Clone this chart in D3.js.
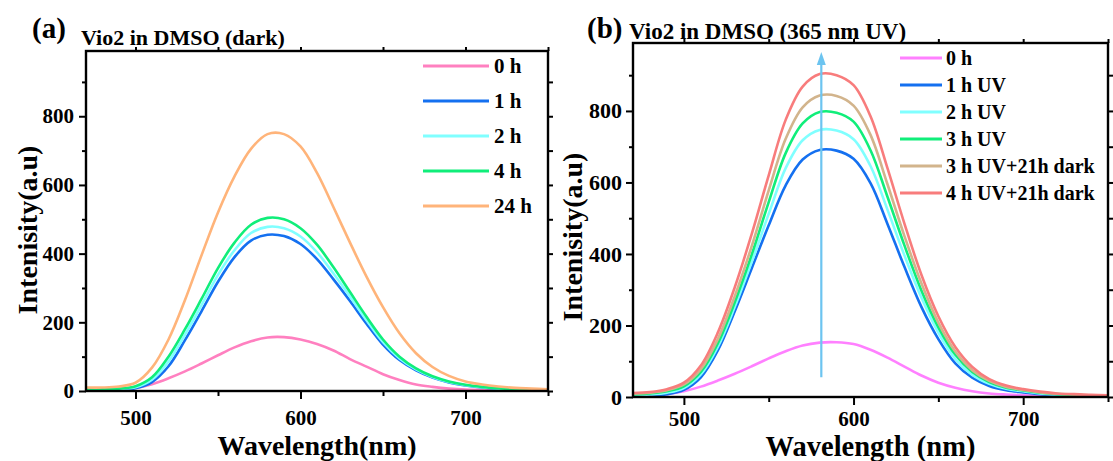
<!DOCTYPE html>
<html>
<head>
<meta charset="utf-8">
<script src="https://cdn.jsdelivr.net/npm/d3@7"></script>
<style>
  body { margin: 0; background: #fff; }
  svg text { font-family: "Liberation Serif", "Times New Roman", serif; font-weight: bold; fill: #000; }
</style>
</head>
<body>
<svg id="chart" width="1113" height="461"></svg>
<script>
// wavelength grid (nm)
var wavelength = [470, 480, 490, 500, 510, 520, 530, 540, 550, 560, 570, 580, 590, 600, 610,
                  620, 630, 640, 650, 660, 670, 680, 690, 700, 710, 720, 730, 740, 750];

// panel (a): Vio2 in DMSO (dark)
var darkLabels = ["0 h", "1 h", "2 h", "4 h", "24 h"];
var dark0h  = [1, 2, 4, 9, 20, 37, 57, 80, 104, 127, 145, 156, 157, 150, 137, 118, 93, 71, 49, 32, 19, 12, 7, 4, 3, 2, 1, 1, 1];
var dark1h  = [2, 3, 4, 8, 26, 72, 148, 232, 318, 390, 438, 455, 451, 428, 384, 325, 262, 196, 135, 90, 60, 39, 25, 16, 10, 6, 4, 3, 2];
var dark2h  = [3, 4, 6, 11, 33, 86, 164, 250, 338, 410, 460, 478, 474, 450, 404, 342, 275, 206, 142, 95, 63, 41, 26, 17, 11, 7, 5, 3, 2];
var dark4h  = [4, 5, 7, 14, 40, 100, 180, 268, 358, 432, 484, 504, 500, 474, 426, 360, 288, 216, 150, 100, 66, 43, 28, 18, 12, 8, 5, 4, 3];
var dark24h = [10, 10, 13, 24, 68, 150, 265, 395, 520, 625, 705, 748, 748, 712, 635, 535, 432, 333, 244, 168, 110, 70, 44, 28, 19, 13, 9, 7, 5];
var darkColors = ["#ff80c0", "#1470f0", "#80ffff", "#10ee7a", "#ffb47a"];

// panel (b): Vio2 in DMSO (365 nm UV)
var uvLabels = ["0 h", "1 h UV", "2 h UV", "3 h UV", "3 h UV+21h dark", "4 h UV+21h dark"];
var uv0h     = [2, 4, 8, 16, 29, 46, 65, 86, 108, 128, 144, 152, 153, 148, 132, 110, 85, 60, 40, 26, 16, 10, 7, 5, 4, 3, 2, 1, 1];
var uv1h     = [3, 4, 8, 20, 55, 130, 240, 360, 480, 592, 664, 691, 689, 666, 598, 484, 364, 252, 162, 94, 54, 31, 19, 13, 8, 5, 4, 3, 2];
var uv2h     = [5, 7, 12, 25, 63, 140, 252, 378, 512, 640, 718, 747, 745, 721, 646, 524, 396, 278, 180, 106, 62, 37, 23, 16, 10, 7, 5, 4, 3];
var uv3h     = [7, 10, 16, 30, 70, 150, 265, 398, 545, 682, 765, 797, 795, 770, 690, 560, 424, 298, 195, 118, 70, 42, 26, 18, 12, 8, 6, 4, 3];
var uv3hDark = [9, 12, 19, 35, 78, 162, 282, 422, 578, 722, 810, 843, 842, 815, 733, 595, 450, 318, 208, 127, 75, 45, 28, 20, 13, 9, 7, 5, 4];
var uv4hDark = [11, 14, 22, 40, 88, 180, 307, 456, 620, 775, 868, 903, 900, 872, 785, 640, 485, 342, 226, 140, 84, 50, 32, 22, 15, 10, 8, 6, 5];
var uvColors = ["#ff80ff", "#1470f0", "#80ffff", "#10ee7a", "#d2b48c", "#f87c7c"];

// arrow in panel (b): wavelength and intensity span
var arrowWavelength = 581;
var arrowSpan = [55, 965];

var xMajor = [500, 600, 700], xMinor = [550, 650, 750];
var yMajor = [0, 200, 400, 600, 800], yMinor = [100, 300, 500, 700, 900];

var svg = d3.select("#chart");

function styleAxis(sel, fontSize) {
  sel.select(".domain").remove();
  sel.selectAll(".tick line").attr("stroke", "#000").attr("stroke-width", 2);
  sel.selectAll(".tick text").style("font-size", fontSize + "px").attr("fill", "#000");
}

function drawPanel(cfg) {
  var x = d3.scaleLinear().domain([470, 750]).range([cfg.left, cfg.right]);
  var y = d3.scaleLinear().domain([0, 990]).range([cfg.bottom, cfg.top]);
  var g = svg.append("g");

  var clipId = "clip-" + cfg.letter;
  g.append("clipPath").attr("id", clipId)
    .append("rect")
      .attr("x", cfg.left).attr("y", cfg.top)
      .attr("width", cfg.right - cfg.left).attr("height", cfg.bottom - cfg.top);

  // curves
  var line = d3.line()
      .x(function(d, i) { return x(wavelength[i]); })
      .y(function(d) { return y(d); })
      .curve(d3.curveCatmullRom.alpha(0.5));

  g.append("g").attr("clip-path", "url(#" + clipId + ")")
    .selectAll("path")
    .data(cfg.series)
    .enter().append("path")
      .attr("d", line)
      .attr("fill", "none")
      .attr("stroke", function(d, i) { return cfg.colors[i]; })
      .attr("stroke-width", 2.6)
      .attr("stroke-linejoin", "round");

  // axes
  g.append("g").attr("transform", "translate(" + cfg.left + ",0)")
    .call(d3.axisLeft(y).tickValues(yMajor).tickSize(7).tickPadding(cfg.yPad))
    .call(styleAxis, cfg.yTickFont);
  g.append("g").attr("transform", "translate(" + cfg.left + ",0)")
    .call(d3.axisLeft(y).tickValues(yMinor).tickSize(4).tickFormat(""))
    .call(styleAxis, 21);
  g.append("g").attr("transform", "translate(0," + cfg.bottom + ")")
    .call(d3.axisBottom(x).tickValues(xMajor).tickSize(8).tickPadding(cfg.xPad))
    .call(styleAxis, 21);
  g.append("g").attr("transform", "translate(0," + cfg.bottom + ")")
    .call(d3.axisBottom(x).tickValues(xMinor).tickSize(5).tickFormat(""))
    .call(styleAxis, 21);
  g.append("g").attr("transform", "translate(" + cfg.right + ",0)")
    .call(d3.axisRight(y).tickValues(yMajor.concat(yMinor)).tickSize(5).tickFormat(""))
    .call(styleAxis, 21);
  g.append("g").attr("transform", "translate(0," + cfg.top + ")")
    .call(d3.axisTop(x).tickValues(xMajor.concat(xMinor)).tickSize(4).tickFormat(""))
    .call(styleAxis, 21);

  // frame
  g.append("rect")
    .attr("x", cfg.left).attr("y", cfg.top)
    .attr("width", cfg.right - cfg.left).attr("height", cfg.bottom - cfg.top)
    .attr("fill", "none").attr("stroke", "#000").attr("stroke-width", 2.4);

  // titles
  g.append("text").attr("x", cfg.letterX).attr("y", 38)
    .style("font-size", "29px").text("(" + cfg.letter + ")");
  g.append("text").attr("x", cfg.titleX).attr("y", cfg.titleY)
    .style("font-size", cfg.titleFont + "px").text(cfg.title);

  g.append("text")
    .attr("transform", "translate(" + cfg.yLabelX + "," + cfg.yLabelY + ") rotate(-90)")
    .style("text-anchor", "middle").style("font-size", "28px")
    .text("Intenisity(a.u)");
  g.append("text")
    .attr("x", (cfg.left + cfg.right) / 2).attr("y", cfg.xLabelY)
    .style("text-anchor", "middle").style("font-size", cfg.xLabelFont + "px")
    .text(cfg.xLabel);

  // legend
  var leg = cfg.legend;
  var items = g.append("g").selectAll("g")
    .data(cfg.labels)
    .enter().append("g")
      .attr("transform", function(d, i) { return "translate(0," + (leg.y0 + i * leg.dy) + ")"; });
  items.append("line")
    .attr("x1", leg.x1).attr("x2", leg.x2)
    .attr("stroke", function(d, i) { return cfg.colors[i]; })
    .attr("stroke-width", 3.2);
  items.append("text")
    .attr("x", leg.tx).attr("dy", "0.34em")
    .style("font-size", leg.fontSize + "px")
    .text(function(d) { return d; });

  return {x: x, y: y, g: g};
}

drawPanel({
  letter: "a", letterX: 32, title: "Vio2 in DMSO (dark)", titleX: 81, titleY: 45, titleFont: 22,
  left: 86, right: 548, top: 51, bottom: 391,
  yPad: 5, xPad: 11, yTickFont: 21,
  yLabelX: 37, yLabelY: 230, xLabel: "Wavelength(nm)", xLabelY: 455, xLabelFont: 28,
  series: [dark0h, dark1h, dark2h, dark4h, dark24h],
  labels: darkLabels, colors: darkColors,
  legend: {x1: 423, x2: 489, tx: 494, y0: 66, dy: 35, fontSize: 21}
});

var pb = drawPanel({
  letter: "b", letterX: 587, title: "Vio2 in DMSO (365 nm UV)", titleX: 629, titleY: 39, titleFont: 23,
  left: 633, right: 1108, top: 43, bottom: 397,
  yPad: 4, xPad: 6, yTickFont: 22,
  yLabelX: 582, yLabelY: 237, xLabel: "Wavelength (nm)", xLabelY: 456, xLabelFont: 28.5,
  series: [uv0h, uv1h, uv2h, uv3h, uv3hDark, uv4hDark],
  labels: uvLabels, colors: uvColors,
  legend: {x1: 900, x2: 942, tx: 946, y0: 58, dy: 27, fontSize: 20}
});

// arrow showing the rise under UV
var ax = pb.x(arrowWavelength);
var yTip = pb.y(arrowSpan[1]);
pb.g.append("line")
  .attr("x1", ax).attr("x2", ax)
  .attr("y1", pb.y(arrowSpan[0])).attr("y2", yTip + 10)
  .attr("stroke", "#6cc4f0").attr("stroke-width", 2.2);
pb.g.append("path")
  .attr("d", "M" + ax + "," + yTip + "L" + (ax - 4.5) + "," + (yTip + 13) + "L" + (ax + 4.5) + "," + (yTip + 13) + "Z")
  .attr("fill", "#6cc4f0");
</script>
</body>
</html>
